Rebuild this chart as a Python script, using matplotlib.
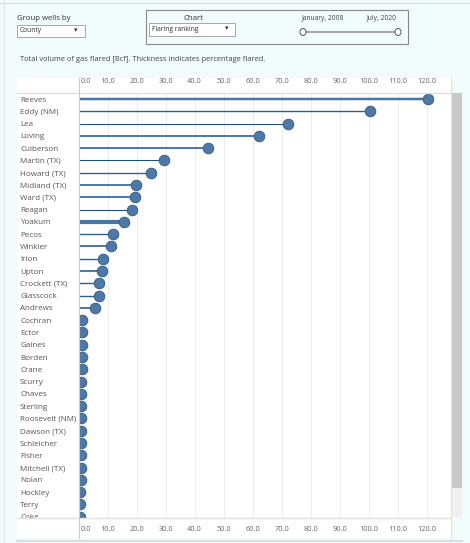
import matplotlib.pyplot as plt
import matplotlib.transforms as mtransforms
from matplotlib.patches import Rectangle, Ellipse
from matplotlib.lines import Line2D

# data (Bcf flared, and % flared -> line thickness)
counties = ['Reeves', 'Eddy (NM)', 'Lea', 'Loving', 'Culberson', 'Martin (TX)',
            'Howard (TX)', 'Midland (TX)', 'Ward (TX)', 'Reagan', 'Yoakum', 'Pecos',
            'Winkler', 'Irion', 'Upton', 'Crockett (TX)', 'Glasscock', 'Andrews',
            'Cochran', 'Ector', 'Gaines', 'Borden', 'Crane', 'Scurry', 'Chaves',
            'Sterling', 'Roosevelt (NM)', 'Dawson (TX)', 'Schleicher', 'Fisher',
            'Mitchell (TX)', 'Nolan', 'Hockley', 'Terry', 'Coke']
volume = [120.4, 100.5, 72.0, 62.1, 44.5, 29.5, 24.8, 19.8, 19.6, 18.3, 15.6, 11.8,
          11.1, 8.6, 8.1, 7.1, 7.0, 5.7, 1.3, 1.3, 1.3, 1.2, 1.1, 1.0, 1.0,
          0.9, 0.9, 0.8, 0.8, 0.7, 0.7, 0.7, 0.6, 0.6, 0.5]
pct_flared = [10, 5, 3.5, 7.5, 7.5, 3.5, 5, 7.5, 7.5, 3.5, 17.5, 5,
              7.5, 5, 7.5, 5, 5, 7.5, 5, 5, 5, 5, 5, 5, 5,
              5, 5, 5, 5, 5, 5, 5, 5, 5, 5]
xticks = [0, 10, 20, 30, 40, 50, 60, 70, 80, 90, 100, 110, 120]

W, H = 470, 543
fig = plt.figure(figsize=(W / 100, H / 100), dpi=100, facecolor='#f2fbfb')
plt.rcParams['font.family'] = ['Open Sans', 'DejaVu Sans']


def fx(x):
    return x / W


def fy(y):
    return 1 - y / H


def rect(x0, y0, x1, y1, z=1, **kw):
    fig.add_artist(Rectangle((fx(x0), fy(y1)), fx(x1) - fx(x0), fy(y0) - fy(y1),
                             transform=fig.transFigure, zorder=z, **kw))


def hline(x0, x1, y, z=10, **kw):
    fig.add_artist(Line2D([fx(x0), fx(x1)], [fy(y), fy(y)], transform=fig.transFigure,
                          zorder=z, **kw))


def vline(x, y0, y1, z=10, **kw):
    fig.add_artist(Line2D([fx(x), fx(x)], [fy(y0), fy(y1)], transform=fig.transFigure,
                          zorder=z, **kw))


# page furniture
hline(0, 470, 3, color='#dddddd', lw=0.8)
vline(4, 0, 543, color='#e2e2e2', lw=0.8)
rect(17, 78, 451, 538, z=-5, facecolor='white', edgecolor='none')
hline(17, 462, 541, color='#dddddd', lw=1.5)

# controls
fig.text(fx(17), fy(18.5), 'Group wells by', fontsize=5.6, color='#333333', va='center')
rect(17, 25, 85, 37, facecolor='white', edgecolor='#999999', lw=0.6)
fig.text(fx(20), fy(31), 'County', fontsize=4.8, color='#333333', va='center')
fig.text(fx(76), fy(30.5), '▾', fontsize=5, color='#333333', va='center', ha='center')

rect(146, 10, 408, 44, facecolor='none', edgecolor='#888888', lw=0.8)
fig.text(fx(193), fy(18.5), 'Chart', fontsize=5.6, color='#333333', va='center', ha='center')
rect(149, 23, 235, 36, facecolor='white', edgecolor='#999999', lw=0.6)
fig.text(fx(152), fy(29.5), 'Flaring ranking', fontsize=4.8, color='#333333', va='center')
fig.text(fx(227), fy(29), '▾', fontsize=5, color='#333333', va='center', ha='center')
fig.text(fx(323), fy(18), 'January, 2008', fontsize=4.8, color='#444444', va='center', ha='center')
fig.text(fx(382), fy(18), 'July, 2020', fontsize=4.8, color='#444444', va='center', ha='center')
hline(304, 397, 32, color='#aaaaaa', lw=1.5)
for cx in (303, 398):
    fig.add_artist(Ellipse((fx(cx), fy(32)), fx(6), fy(25) - fy(32),
                           transform=fig.transFigure, facecolor='white',
                           edgecolor='#555555', lw=0.7, zorder=11))

fig.text(fx(20), fy(59), 'Total volume of gas flared [Bcf]. Thickness indicates percentage flared.',
         fontsize=5.4, color='#444444', va='center')

# scrollbar
rect(451, 93, 462, 488, facecolor='#c8c8c8', edgecolor='none')
rect(451, 488, 462, 517, facecolor='#f0f0f0', edgecolor='none')

# main lollipop chart
ax = fig.add_axes([fx(78.5), fy(518), fx(451) - fx(78.5), fy(93) - fy(518)])
ax.set_zorder(2)
ax.set_facecolor('white')
for i, (v, p) in enumerate(zip(volume, pct_flared)):
    lw_px = 0.3 + 0.22 * p
    col = '#1f4f82' if lw_px < 1.2 else ('#2f5f93' if lw_px < 1.8 else '#4a76a6')
    ax.plot([0, v], [i, i], color=col, lw=lw_px * 0.72, solid_capstyle='butt', zorder=2)
ax.plot(volume, range(len(volume)), 'o', ms=7.6, color='#4e79a7',
        markeredgecolor='#36618f', markeredgewidth=0.7, zorder=3)

ax.set_xlim(0, 128.3)
ax.set_ylim(34.1, -0.49)
ax.set_xticks(xticks)
ax.set_xticklabels(['%.1f' % t for t in xticks])
ax.set_yticks(range(len(counties)))
ax.set_yticklabels(counties)
ax.grid(axis='x', color='#ececec', lw=0.7, zorder=0)
ax.tick_params(axis='x', top=True, labeltop=True, bottom=True, labelbottom=True,
               length=0, labelsize=5.3, labelcolor='#666666', pad=5.5)
ax.tick_params(axis='y', length=0, labelsize=5.75, labelcolor='#555555', pad=0)
for lab in ax.get_yticklabels():
    lab.set_horizontalalignment('left')
    lab.set_x(-0.157)
# first tick label sits just right of the pane line
shift = mtransforms.ScaledTranslation(2 / 100, 0, fig.dpi_scale_trans)
first = ax.xaxis.get_major_ticks()[0]
for lab in (first.label1, first.label2):
    lab.set_horizontalalignment('left')
    lab.set_transform(lab.get_transform() + shift)
for s in ax.spines.values():
    s.set_visible(False)

# pane lines
hline(17, 451, 93, color='#e0e0e0', lw=1)
hline(17, 451, 518, color='#e0e0e0', lw=1)
vline(78.5, 78, 538, color='#cccccc', lw=0.8)
vline(451, 78, 538, color='#e0e0e0', lw=0.8)

fig.savefig('out.png', dpi=100, facecolor=fig.get_facecolor())
